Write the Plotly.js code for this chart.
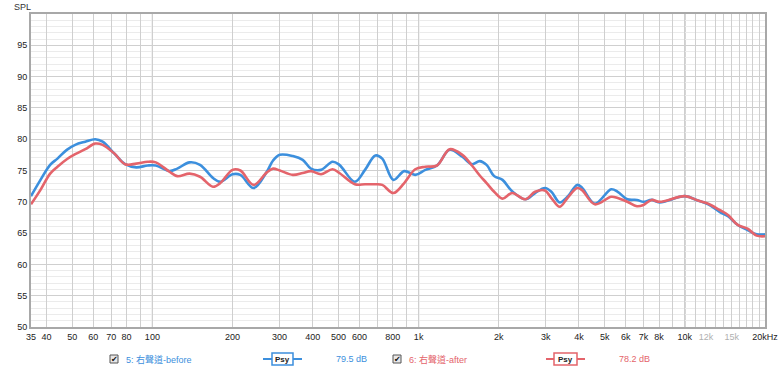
<!DOCTYPE html>
<html><head><meta charset="utf-8">
<script src="https://cdn.plot.ly/plotly-3.0.1.min.js"></script>
<style>html,body{margin:0;padding:0;background:#fff}#chart{width:780px;height:371px}</style>
</head><body><div id="chart"></div>
<script>
// Frequencies (Hz)
var freq = [35,38,41.3,44,47.7,51.3,56,61,65,72,79,87,96,103,116,124,138,151,169,180,200,214,240,269,284,301,337,367,394,430,475,504,576,629,688,730,804,883,971,1060,1172,1308,1459,1586,1697,1800,1922,2066,2244,2517,2739,2981,3153,3386,3623,3939,4102,4588,5289,5594,6080,6607,6990,7500,8040,10000,11200,12240,13500,14520,15800,17200,18600,20000];
// 5: 右聲道-before (dB SPL)
var before = [70.9,73.5,75.9,76.9,78.3,79.1,79.6,80.0,79.6,77.7,76.0,75.5,75.8,75.8,74.9,75.3,76.3,75.9,73.8,73.2,74.4,74.3,72.2,74.8,76.6,77.5,77.3,76.7,75.3,75.1,76.4,75.9,73.2,75.1,77.4,76.9,73.5,74.9,74.3,75.1,75.8,78.3,77.2,76.0,76.5,75.9,74.1,73.5,71.7,70.4,71.4,72.2,71.6,69.9,70.8,72.7,72.3,69.7,72.0,71.6,70.4,70.3,70.0,70.3,69.9,70.9,70.2,69.6,68.4,67.7,66.3,65.5,64.8,64.8];
// 6: 右聲道-after (dB SPL)
var after = [69.6,71.9,74.5,75.6,76.8,77.6,78.4,79.3,79.1,77.7,76.0,76.1,76.4,76.3,74.8,74.1,74.5,74.0,72.4,73.0,75.1,75.0,72.7,74.7,75.3,75.0,74.3,74.6,74.9,74.4,75.2,74.6,72.8,72.8,72.8,72.7,71.4,73.0,75.2,75.6,75.8,78.4,77.5,75.8,74.2,73.0,71.6,70.5,71.4,70.4,71.6,71.8,70.6,69.2,70.6,72.2,71.9,69.6,70.8,70.6,70.0,69.3,69.5,70.3,70.0,70.9,70.2,69.7,68.7,67.9,66.3,65.7,64.6,64.5];

var xTickVals = [35,40,50,60,70,80,90,100,200,300,400,500,600,700,800,900,1000,2000,3000,4000,5000,6000,7000,8000,9000,10000,11000,12000,13000,14000,15000,16000,17000,18000,19000,20000];
var xTickText = ['35','40','50','60','70','80','','100','200','300','400','500','600','','800','','1k','2k','3k','4k','5k','6k','7k','8k','','10k','','<span style="color:#b0b0b0">12k</span>','','','<span style="color:#b0b0b0">15k</span>','','','','','20kHz'];
var yTickVals = [50,55,60,65,70,75,80,85,90,95];
var seriesNames = ['5: 右聲道-before','6: 右聲道-after'];
var seriesLevels = ['79.5 dB','78.2 dB'];
var colors = ['#3c8fdd','#e4646b'];

var FONT = 'Liberation Sans, Arial, Noto Sans CJK TC, sans-serif';
// pixel -> paper helpers (plot area: x 31..765, y 14..327)
function px(x){return (x-31)/734;}
function py(y){return (327-y)/313;}

var traces = [
  {x:freq, y:before, type:'scatter', mode:'lines', line:{color:colors[0], width:2.6, shape:'spline', smoothing:1}, hoverinfo:'skip'},
  {x:freq, y:after, type:'scatter', mode:'lines', line:{color:colors[1], width:2.6, shape:'spline', smoothing:1}, hoverinfo:'skip'}
];

var shapes = [];
[100,1000,10000].forEach(function(v){
  shapes.push({type:'line', xref:'x', yref:'paper', x0:v, x1:v, y0:0, y1:1, layer:'below', line:{color:'#8a8a8a', width:1}});
});
var annotations = [
  {xref:'paper', yref:'paper', x:px(12), y:py(7), xanchor:'left', yanchor:'middle', text:'SPL', showarrow:false, font:{family:FONT, size:9, color:'#333'}}
];
// legend row
var legendDefs = [
  {cb:110, txt:124, l0:263, l1:302, b0:272, b1:293, lv:351},
  {cb:393, txt:407, l0:546, l1:585, b0:554, b1:577, lv:634}
];
legendDefs.forEach(function(d, i){
  var yc = 359;
  shapes.push({type:'rect', xref:'paper', yref:'paper', x0:px(d.cb), x1:px(d.cb+8), y0:py(yc+4), y1:py(yc-4), line:{color:'#555', width:1}, fillcolor:'#e8e8e8'});
  annotations.push({xref:'paper', yref:'paper', x:px(d.cb+4), y:py(yc), xanchor:'center', yanchor:'middle', text:'✔', showarrow:false, font:{family:'DejaVu Sans', size:8, color:'#111'}});
  annotations.push({xref:'paper', yref:'paper', x:px(d.txt), y:py(yc), xanchor:'left', yanchor:'middle', text:seriesNames[i], showarrow:false, font:{family:FONT, size:9, color:colors[i]}});
  shapes.push({type:'line', xref:'paper', yref:'paper', x0:px(d.l0), x1:px(d.l1), y0:py(yc), y1:py(yc), line:{color:colors[i], width:2}});
  shapes.push({type:'rect', xref:'paper', yref:'paper', x0:px(d.b0), x1:px(d.b1), y0:py(yc+6), y1:py(yc-6), line:{color:colors[i], width:1.5}, fillcolor:'#ffffff'});
  annotations.push({xref:'paper', yref:'paper', x:px((d.b0+d.b1)/2), y:py(yc), xanchor:'center', yanchor:'middle', text:'<b>Psy</b>', showarrow:false, font:{family:FONT, size:8, color:'#222'}});
  annotations.push({xref:'paper', yref:'paper', x:px(d.lv), y:py(yc), xanchor:'center', yanchor:'middle', text:seriesLevels[i], showarrow:false, font:{family:FONT, size:9, color:colors[i]}});
});

var layout = {
  width:780, height:371,
  margin:{l:31, r:15, t:14, b:44},
  paper_bgcolor:'#ffffff', plot_bgcolor:'#ffffff',
  showlegend:false,
  font:{family:FONT, size:9, color:'#333'},
  xaxis:{type:'log', range:[Math.log10(35), Math.log10(20000)], tickmode:'array', tickvals:xTickVals, ticktext:xTickText,
         showgrid:true, gridcolor:'#cfcfcf', gridwidth:1, zeroline:false, ticks:'', showline:true, linecolor:'#a8a8a8', linewidth:2, mirror:true,
         tickfont:{family:FONT, size:9, color:'#222'}, fixedrange:true},
  yaxis:{range:[50,100], tickmode:'array', tickvals:yTickVals, showgrid:true, gridcolor:'#cfcfcf', gridwidth:1, zeroline:false, ticks:'',
         showline:true, linecolor:'#a8a8a8', linewidth:2, mirror:true, tickfont:{family:FONT, size:9, color:'#222'},
         minor:{dtick:1, showgrid:true, gridcolor:'#ebebeb', gridwidth:1}, fixedrange:true},
  shapes:shapes,
  annotations:annotations
};
Plotly.newPlot('chart', traces, layout, {displayModeBar:false, staticPlot:true});
</script>
</body></html>
